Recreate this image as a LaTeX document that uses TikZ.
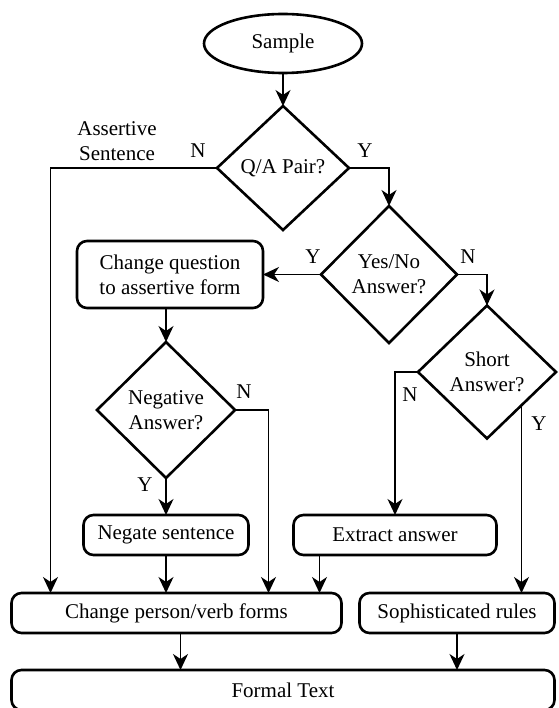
\documentclass[tikz,border=0pt]{standalone}
\usepackage{fontspec}
\setmainfont{Liberation Serif}
\usetikzlibrary{arrows.meta,positioning,shapes.geometric}
\tikzset{
  font=\fontsize{21}{25}\selectfont,
  term/.style={ellipse, draw, line width=2.6pt, outer sep=0pt, minimum width=158pt, minimum height=59pt, inner sep=0pt},
  decide/.style={diamond, draw, line width=2.6pt, outer sep=0pt, align=center, inner sep=1pt},
  proc/.style={rounded corners=10pt, draw, line width=2.6pt, outer sep=0pt, align=center, inner sep=2pt},
  lbl/.style={inner sep=0pt},
  flow/.style={-{Stealth[length=16pt, width=15pt, inset=5pt]}, line width=1.6pt},
}

\begin{document}
\begin{tikzpicture}
\useasboundingbox (0,0) rectangle (558pt,-708pt);
\node[term] (sample) at (283pt,-43.5pt) {Sample};
\node[decide, below=33pt of sample, minimum width=132pt, minimum height=124pt] (qa) {Q/A Pair?};
\node[decide, below=38pt of qa.east, xshift=40pt, minimum width=136pt, minimum height=137pt] (yesno) {Yes/No\\Answer?};
\node[proc, left=58pt of yesno, minimum width=186pt, minimum height=67pt] (chq) {Change question\\to assertive form};
\node[decide, below=34pt of chq, xshift=-4pt, minimum width=138pt, minimum height=136pt] (neg) {Negative\\Answer?};
\node[decide, below=31pt of yesno.east, xshift=30pt, minimum width=138pt, minimum height=133pt] (short) {Short\\Answer?};
\node[proc, below=37pt of neg, minimum width=165pt, minimum height=40pt] (negate) {Negate sentence};
\node[proc, right=45pt of negate, minimum width=203pt, minimum height=40pt] (extract) {Extract answer};
\node[proc, below=38pt of negate, xshift=10.5pt, minimum width=330pt, minimum height=40pt] (person) {Change person/verb forms};
\node[proc, right=18pt of person, minimum width=195pt, minimum height=40pt] (soph) {Sophisticated rules};
\node[proc, below=37pt of person.south west, anchor=north west, minimum width=543pt, minimum height=40pt] (formal) {Formal Text};
% branch labels
\node[lbl, align=center] (asrt) at (117pt,-141.5pt) {Assertive\\Sentence};
\node[lbl] at ([shift={(-19pt,17pt)}]qa.west) {N};
\node[lbl] at ([shift={(16pt,17pt)}]qa.east) {Y};
\node[lbl] at ([shift={(-8pt,18pt)}]yesno.west) {Y};
\node[lbl] at ([shift={(11pt,18pt)}]yesno.east) {N};
\node[lbl] at ([shift={(9pt,18pt)}]neg.east) {N};
\node[lbl] at ([shift={(-21pt,-7pt)}]neg.south) {Y};
\node[lbl] at ([shift={(-8pt,-23pt)}]short.west) {N};
\node[lbl] at ([shift={(17.5pt,-18pt)}]short.south east) {Y};
% connectors
\coordinate (pA) at ([xshift=39pt]person.north west);
\coordinate (pB) at ([xshift=-73pt]person.north east);
\coordinate (pC) at ([xshift=26pt]extract.south west);
\draw[flow] (sample) -- (qa);
\draw[flow] (qa.west) -| (pA);
\draw[flow] (qa.east) -| (yesno.north);
\draw[flow] (yesno.west) -- (chq.east);
\draw[flow] (chq.south -| neg.north) -- (neg.north);
\draw[flow] (neg.east) -| (pB);
\draw[flow] (neg) -- (negate);
\draw[flow] (negate.south) -- (negate.south |- person.north);
\draw[flow] (yesno.east) -| (short.north);
\draw[flow] (short.west) -| (extract.north);
\draw[flow] (short.south east) -- (short.south east |- soph.north);
\draw[flow] (pC) -- (pC |- person.north);
\draw[flow] ([xshift=4pt]person.south) -- ([xshift=4pt]person.south |- formal.north);
\draw[flow] (soph.south) -- (soph.south |- formal.north);
\end{tikzpicture}
\end{document}
